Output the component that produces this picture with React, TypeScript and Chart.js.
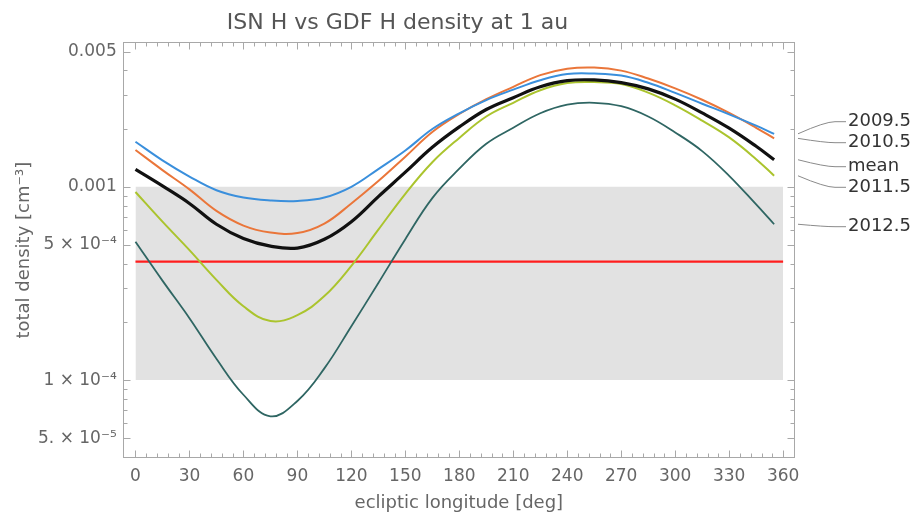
import { useEffect, useRef } from 'react';
import { Chart, registerables } from 'chart.js';

Chart.register(...registerables);

// ---- data ----
const longitudes = [0, 15, 30, 45, 60, 75, 90, 105, 120, 135, 150, 165, 180, 195, 210, 225, 240, 255, 270, 285, 300, 315, 330, 345, 355];

const seriesNames = ['2009.5', '2010.5', 'mean', '2011.5', '2012.5'];

const density2009 = [1.71e-3, 1.37e-3, 1.13e-3, 9.6e-4, 8.8e-4, 8.5e-4, 8.45e-4, 8.8e-4, 1.0e-3, 1.235e-3, 1.54e-3, 1.99e-3, 2.40e-3, 2.81e-3, 3.18e-3, 3.56e-3, 3.83e-3, 3.85e-3, 3.76e-3, 3.45e-3, 3.06e-3, 2.69e-3, 2.37e-3, 2.07e-3, 1.88e-3];
const density2010 = [1.55e-3, 1.22e-3, 9.7e-4, 7.5e-4, 6.3e-4, 5.8e-4, 5.76e-4, 6.45e-4, 8.2e-4, 1.07e-3, 1.43e-3, 1.92e-3, 2.38e-3, 2.84e-3, 3.29e-3, 3.78e-3, 4.08e-3, 4.14e-3, 3.99e-3, 3.63e-3, 3.23e-3, 2.82e-3, 2.41e-3, 2.02e-3, 1.78e-3];
const densityMean = [1.23e-3, 1.01e-3, 8.2e-4, 6.4e-4, 5.4e-4, 4.93e-4, 4.82e-4, 5.35e-4, 6.6e-4, 8.9e-4, 1.19e-3, 1.60e-3, 2.04e-3, 2.51e-3, 2.89e-3, 3.29e-3, 3.54e-3, 3.57e-3, 3.46e-3, 3.21e-3, 2.84e-3, 2.41e-3, 2.01e-3, 1.62e-3, 1.38e-3];
const density2011 = [9.4e-4, 6.6e-4, 4.7e-4, 3.3e-4, 2.41e-4, 2.02e-4, 2.17e-4, 2.72e-4, 3.9e-4, 6.0e-4, 9.2e-4, 1.34e-3, 1.79e-3, 2.31e-3, 2.72e-3, 3.16e-3, 3.44e-3, 3.48e-3, 3.40e-3, 3.07e-3, 2.64e-3, 2.20e-3, 1.80e-3, 1.39e-3, 1.14e-3];
const density2012 = [5.2e-4, 3.27e-4, 2.09e-4, 1.29e-4, 8.4e-5, 6.5e-5, 7.8e-5, 1.15e-4, 1.9e-4, 3.18e-4, 5.36e-4, 8.74e-4, 1.24e-3, 1.67e-3, 2.02e-3, 2.40e-3, 2.66e-3, 2.72e-3, 2.61e-3, 2.31e-3, 1.91e-3, 1.53e-3, 1.14e-3, 8.1e-4, 6.4e-4];

const gdfLongitudes = [0, 360];
const gdfDensity = 4.1e-4;
const bandLongitudes = [0, 360];
const bandLow = 1e-4;
const bandHigh = 1e-3;

const xTickValues = [0, 30, 60, 90, 120, 150, 180, 210, 240, 270, 300, 330, 360];
const yTickValues = [0.005, 0.001, 5e-4, 1e-4, 5e-5];
const yTickLabels = ['0.005', '0.001', '5 \u00d7 10\u207b\u2074', '1 \u00d7 10\u207b\u2074', '5. \u00d7 10\u207b\u2075'];

const titleText = 'ISN H vs GDF H density at 1 au';
const xTitle = 'ecliptic longitude [deg]';
const yTitle = 'total density [cm\u207b\u00b3]';

// ---- styles ----
const FONT = '"DejaVu Sans", "Liberation Sans", sans-serif';
const seriesColors = ['#3a8fdc', '#ea763a', '#111111', '#abc42e', '#2f6663'];
const seriesWidths = [2, 2, 3.2, 2, 1.8];
const seriesOrder = [1, 2, 0, 3, 4];
const calloutOffsets = [79.7, 100.7, 124.7, 145.3, 184.7];

const allSeries = [density2009, density2010, densityMean, density2011, density2012];

const framePlugin = {
  id: 'frame',
  afterDatasetsDraw(chart: any) {
    const { ctx, chartArea: a, scales } = chart;
    const xs = scales.x;
    const ys = scales.y;
    ctx.save();
    ctx.strokeStyle = '#a8a8a8';
    ctx.lineWidth = 1;
    const L = Math.round(a.left) + 0.5;
    const R = Math.round(a.right) - 0.5;
    const T = Math.round(a.top) + 0.5;
    const B = Math.round(a.bottom) - 0.5;
    ctx.strokeRect(L, T, R - L, B - T);
    ctx.beginPath();
    for (let v = 0; v <= 366; v += 6) {
      const px = Math.round(xs.getPixelForValue(v)) + 0.5;
      const len = v % 30 === 0 ? 7 : 4;
      ctx.moveTo(px, B); ctx.lineTo(px, B - len);
      ctx.moveTo(px, T); ctx.lineTo(px, T + len);
    }
    for (let e = -5; e <= -3; e++) {
      for (let k = 1; k <= 9; k++) {
        const v = k * Math.pow(10, e);
        if (v < ys.min || v > ys.max) continue;
        const major = yTickValues.some((t) => Math.abs(t - v) / t < 1e-6);
        const len = major ? 7 : 4;
        const py = Math.round(ys.getPixelForValue(v)) + 0.5;
        ctx.moveTo(L, py); ctx.lineTo(L + len, py);
        ctx.moveTo(R, py); ctx.lineTo(R - len, py);
      }
    }
    ctx.stroke();
    ctx.restore();
  },
};

const calloutPlugin = {
  id: 'callouts',
  afterDraw(chart: any) {
    const { ctx, chartArea: a } = chart;
    ctx.save();
    ctx.font = `18px ${FONT}`;
    ctx.textBaseline = 'middle';
    ctx.textAlign = 'left';
    seriesNames.forEach((name, i) => {
      const meta = chart.getDatasetMeta(i);
      const pt = meta.data[meta.data.length - 1];
      const endY = pt.y;
      const ly = a.top + calloutOffsets[i];
      ctx.strokeStyle = '#8a8a8a';
      ctx.lineWidth = 1;
      ctx.beginPath();
      ctx.moveTo(a.right + 3, endY);
      ctx.quadraticCurveTo(a.right + 30, ly, a.right + 40, ly);
      ctx.lineTo(a.right + 51, ly);
      ctx.stroke();
      ctx.fillStyle = '#333333';
      ctx.fillText(name, a.right + 53, ly);
    });
    ctx.restore();
  },
};

export default function App() {
  const ref = useRef<HTMLCanvasElement | null>(null);

  useEffect(() => {
    if (!ref.current) return;
    const curveSets = allSeries.map((arr, i) => ({
      label: seriesNames[i],
      data: longitudes.map((x, j) => ({ x, y: arr[j] })),
      borderColor: seriesColors[i],
      borderWidth: seriesWidths[i],
      pointRadius: 0,
      fill: false,
      tension: 0.4,
      order: seriesOrder[i],
    }));
    const chart = new Chart(ref.current, {
      type: 'line',
      data: {
        datasets: [
          ...curveSets,
          {
            label: 'GDF',
            data: gdfLongitudes.map((x) => ({ x, y: gdfDensity })),
            borderColor: '#ff1e1e',
            borderWidth: 2.2,
            pointRadius: 0,
            fill: false,
            order: 5,
          },
          {
            label: 'band',
            data: bandLongitudes.map((x) => ({ x, y: bandHigh })),
            borderColor: 'rgba(0,0,0,0)',
            borderWidth: 0,
            backgroundColor: '#e2e2e2',
            pointRadius: 0,
            fill: { value: bandLow },
            order: 10,
          },
        ] as any,
      },
      options: {
        animation: false,
        responsive: false,
        layout: { padding: { left: 0, right: 122, top: 0, bottom: 0 } },
        plugins: {
          legend: { display: false },
          tooltip: { enabled: false },
          title: {
            display: true,
            text: titleText,
            color: '#555555',
            font: { family: FONT, size: 22, weight: 'normal' },
            padding: { top: 10, bottom: 5.6 },
          },
        },
        scales: {
          x: {
            type: 'linear',
            min: -7.1,
            max: 366.6,
            bounds: 'data',
            grid: { display: false, drawTicks: false },
            border: { display: false },
            afterBuildTicks: (s: any) => {
              s.ticks = xTickValues.map((v) => ({ value: v }));
            },
            afterFit: (s: any) => {
              s.height = 59.7;
            },
            ticks: {
              autoSkip: false,
              maxRotation: 0,
              padding: 8,
              color: '#666666',
              font: { family: FONT, size: 17 },
              callback: (v: any) => String(v),
            },
            title: {
              display: true,
              text: xTitle,
              color: '#666666',
              font: { family: FONT, size: 18 },
              padding: { top: 0, bottom: 4 },
            },
          },
          y: {
            type: 'logarithmic',
            min: 3.94e-5,
            max: 5.61e-3,
            bounds: 'data',
            grid: { display: false, drawTicks: false },
            border: { display: false },
            afterBuildTicks: (s: any) => {
              s.ticks = yTickValues.map((v) => ({ value: v }));
            },
            afterFit: (s: any) => {
              s.width = 122.7;
            },
            ticks: {
              autoSkip: false,
              padding: 6,
              color: '#666666',
              font: { family: FONT, size: 17 },
              callback: (_v: any, i: number) => yTickLabels[i],
            },
            title: {
              display: true,
              text: yTitle,
              color: '#666666',
              font: { family: FONT, size: 18 },
              padding: { top: 14, bottom: 0 },
            },
          },
        },
      } as any,
      plugins: [framePlugin, calloutPlugin],
    });
    return () => chart.destroy();
  }, []);

  return (
    <div style={{ position: 'absolute', left: 0, top: 0, width: 917, height: 518, background: '#ffffff' }}>
      <canvas ref={ref} width={917} height={518} style={{ display: 'block' }} />
    </div>
  );
}
